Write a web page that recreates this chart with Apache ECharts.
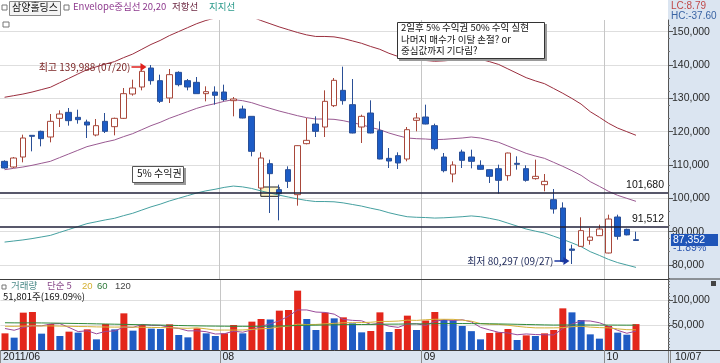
<!DOCTYPE html>
<html><head><meta charset="utf-8">
<script src="https://cdn.jsdelivr.net/npm/echarts@6/dist/echarts.min.js"></script>
<style>html,body{margin:0;padding:0;background:#fff}#c{width:720px;height:363px}</style>
</head><body><div id="c"></div>
<script>
// ---- data ----
const dates = ['06/28','06/29','06/30',
 '07/01','07/04','07/05','07/06','07/07','07/08','07/11','07/12','07/13','07/14','07/15','07/18','07/19','07/20','07/21','07/22','07/25','07/26','07/27','07/28','07/29',
 '08/01','08/02','08/03','08/04','08/05','08/08','08/09','08/10','08/11','08/12','08/16','08/17','08/18','08/19','08/22','08/23','08/24','08/25','08/26','08/29','08/30','08/31',
 '09/01','09/02','09/05','09/06','09/07','09/08','09/09','09/14','09/15','09/16','09/19','09/20','09/21','09/22','09/23','09/26','09/27','09/28','09/29','09/30',
 '10/04','10/05','10/06','10/07'];
const opens = [111100,109400,112400,118900,120100,118400,124000,125800,124300,122900,
 119000,123100,121500,124000,131300,133400,139100,135300,130100,137800,
 135300,134800,131400,131900,131900,129300,126800,124600,103100,110400,
 102600,108600,101100,116400,122300,121400,127800,132400,128100,121400,
 125600,120300,112000,112800,111800,123400,124400,121800,112400,107300,
 113900,112400,109900,108600,108900,106800,110500,108900,105900,104100,
 99600,97100,84800,85600,87400,88800,83600,94400,90700,87600];
const closes = [109100,112100,118100,118600,117900,123100,125300,123300,123600,122000,
 121800,120100,124000,131400,133100,138100,135300,129100,137100,134100,
 133400,131400,132000,130900,129600,129800,124100,114100,112100,107400,
 101400,105100,115800,117400,120100,129100,135400,129300,119600,124600,
 119600,111800,111200,110600,120600,124100,122300,114900,108300,110000,
 111400,111100,108700,106600,105400,113600,110200,105400,106600,105100,
 96800,81100,84400,90300,88400,90800,93800,88600,89035,87352];
const lows = [108900,109100,110800,114100,115600,116800,121400,121800,122400,118100,
 118600,119600,118900,123800,130800,132400,134100,128600,128600,133600,
 132400,131400,129100,128100,129200,124600,124000,112600,102600,95600,
 93400,103100,97800,116200,118400,118400,127400,128100,119500,116600,
 119500,111700,109100,108800,111100,120100,122200,114400,107800,104800,
 109100,109000,108600,104600,101400,105300,108600,105000,105600,102100,
 95400,80800,80297,85500,86100,88700,83500,87600,88900,87300];
const highs = [111400,112400,119100,119000,120300,125300,126400,127100,126600,123600,
 123800,125600,124200,133100,135600,139600,139988,137100,138800,138100,
 135800,136400,133600,133600,134100,130400,127800,124600,113800,111600,
 104100,109600,115900,124100,124600,132400,136100,139500,135800,125100,
 129400,123100,115100,113800,121400,125600,128100,122400,113600,111100,
 114600,114600,111400,108700,110100,113700,112600,109900,111600,107300,
 102800,98800,86100,94300,91100,92100,95100,95100,90900,90000];
const envCenter = [108600,109000,109400,109900,110500,111100,112200,113300,114400,115500,
 116200,116900,117500,118500,119400,120600,121800,122800,124000,125000,
 126000,127000,127800,128400,129100,129600,129300,128700,127800,127000,
 126200,125500,124800,124200,123800,123800,123700,123300,122700,122100,
 121300,120600,119600,118800,118100,117900,117800,117600,117700,117900,
 118100,118400,118100,117500,116800,115700,114600,113500,112700,112000,
 110800,109600,108300,106900,105000,103600,102100,100900,100000,99100];
const envUpper = [130320,130800,131280,131880,132600,133320,134640,135960,137280,138600,
 139440,140280,141000,142200,143280,144720,146160,147360,148800,150000,
 151200,152400,153360,154080,154920,155520,155160,154440,153360,152400,
 151440,150600,149760,149040,148560,148560,148440,147960,147240,146520,
 145560,144720,143520,142560,141720,141480,141360,141120,141240,141480,
 141720,142080,141720,141000,140160,138840,137520,136200,135240,134400,
 132960,131520,129960,128280,126000,124320,122520,121080,120000,118920];
const envLower = [86880,87200,87520,87920,88400,88880,89760,90640,91520,92400,
 92960,93520,94000,94800,95520,96480,97440,98240,99200,100000,
 100800,101600,102240,102720,103280,103680,103440,102960,102240,101600,
 100960,100400,99840,99360,99040,99040,98960,98640,98160,97680,
 97040,96480,95680,95040,94480,94320,94240,94080,94160,94320,
 94480,94720,94480,94000,93440,92560,91680,90800,90160,89600,
 88640,87680,86640,85520,84000,82880,81680,80720,80000,79280];
const volumes = [33300,24700,74700,76000,32700,52000,28000,36700,34700,41300,
 21300,52000,41300,73300,38700,50000,42700,42000,51300,30000,
 25300,43300,33300,28000,33300,50000,33300,56700,62000,61000,
 78700,80000,118700,62000,40000,74700,63300,65300,53300,35300,
 38000,75300,36000,42000,68700,40000,59000,76000,60000,59500,
 48000,37700,21300,34000,35300,42000,20000,29300,28000,33300,
 40000,83300,75300,60000,31300,22700,48000,34700,30635,51801];
const volUp = [1,0,1,1,0,1,0,1,0,1, 0,1,0,1,0,1,0,0,1,0, 0,1,0,0,1,1,0,1,1,0,
 1,1,1,0,0,1,0,1,0,0, 1,1,0,1,1,0,1,1,0,0, 0,0,0,1,1,1,0,1,0,1, 1,1,0,0,0,0,1,0,0,1];
const volMA5 = [43000,39500,45000,48500,48300,52000,52700,45100,36800,38500,
 32400,37200,38100,45800,45300,51100,49200,49300,44900,43200,
 38300,38400,36600,32000,32600,37600,35600,40300,47100,52600,
 58300,67700,80100,80100,75900,75100,71700,61100,59300,58400,
 51000,53400,47600,45300,52000,52400,49100,57100,60700,58900,
 60500,56200,45300,40100,35300,34100,30500,32100,30900,30500,
 30100,42800,52000,58400,58000,54500,47500,39300,33500,37600];
const volMA20 = [47500,47300,47800,48300,48000,48200,47800,47500,47000,46800,
 46200,46000,45800,46000,45700,45500,45200,44800,44600,43800,
 43400,44400,42300,39900,39900,39800,40100,41100,42500,43400,
 46300,47700,51600,51000,51100,52300,53300,54500,54600,54900,
 55500,57100,57200,57900,59700,59200,60500,61500,61400,61300,
 59800,57600,52800,51400,51100,49500,47300,45500,44300,44200,
 44300,44700,46600,47500,45700,44800,44300,42200,40700,40300];
const volMA60 = [54500,54300,54200,54300,54100,53900,53600,53300,53000,52700,
 52300,52000,51600,51300,50900,50500,50200,49800,49400,49000,
 48600,48300,48000,47800,47600,47500,47400,47400,47500,47700,
 48000,48400,49100,49500,49700,50100,50400,50700,50900,51000,
 51200,51600,51700,51800,52100,52200,52300,52600,52800,52900,
 52900,52800,52600,52400,52100,51800,51400,51000,50600,50200,
 49900,50000,50100,50100,50000,49800,49900,49800,49700,49700];
const priceTicks = [80000,90000,100000,110000,120000,130000,140000,150000];
const volTicks = [50000,100000];
const monthLabels = {0:'2011/06', 24:'08', 46:'09', 66:'10'};
const levelLines = [101680, 91512];
const maxIdx = 16, minIdx = 62, boxFrom = 28, boxTo = 30;
const boxTop = 103400, boxBottom = 100600;
const padCats = ['', ' ', '  '];

// ---- helpers ----
const fmt = v => String(v).replace(/\B(?=(\d{3})+(?!\d))/g, ',');
const NUMF = '"Liberation Sans", Arial, sans-serif';
const KRF = '"Noto Sans CJK KR", sans-serif';
const monthStarts = Object.keys(monthLabels).map(Number);
const cats = dates.concat(padCats);
const candleData = dates.map((d, i) => [opens[i], closes[i], lows[i], highs[i]]);
const volData = volumes.map((v, i) => ({value: v, itemStyle: {color: volUp[i] ? '#e3261b' : '#1f5cc4'}}));
const arrowR = 'path://M0,3.2L9,3.2L9,0L15,4L9,8L9,4.8L0,4.8Z';
const n = dates.length;

const chart = echarts.init(document.getElementById('c'), null, {renderer: 'canvas'});
const option = {
  animation: false,
  backgroundColor: '#ffffff',
  grid: [
    {left: 0, top: 20, width: 668, height: 259},
    {left: 0, top: 279, width: 668, height: 71}
  ],
  xAxis: [
    {type: 'category', gridIndex: 0, data: cats, boundaryGap: true,
     axisLine: {show: true, lineStyle: {color: '#3c3c3c', width: 1}},
     axisTick: {show: false}, axisLabel: {show: false},
     splitLine: {show: true, interval: (i) => monthStarts.indexOf(i) > 0, lineStyle: {color: '#c6c6c6'}}},
    {type: 'category', gridIndex: 1, data: cats, boundaryGap: true,
     axisLine: {show: true, lineStyle: {color: '#3c3c3c', width: 1}},
     axisTick: {show: true, interval: (i) => monthStarts.indexOf(i) >= 0, length: 13, lineStyle: {color: '#8a8a8a'}},
     axisLabel: {show: true, interval: (i) => monthStarts.indexOf(i) >= 0,
       formatter: (v, i) => monthLabels[i] || '', align: 'left', color: '#222', fontSize: 10.5,
       fontFamily: NUMF, margin: 2, padding: [0, 0, 0, -2]},
     splitLine: {show: true, interval: (i) => monthStarts.indexOf(i) > 0, lineStyle: {color: '#c6c6c6'}}}
  ],
  yAxis: [
    {type: 'value', gridIndex: 0, position: 'right', min: 75800, max: 153500,
     axisLine: {show: true, lineStyle: {color: '#555'}},
     axisTick: {show: true, customValues: priceTicks, length: 5, lineStyle: {color: '#555'}},
     minorTick: {show: true, splitNumber: 5, length: 2, lineStyle: {color: '#777'}},
     axisLabel: {customValues: priceTicks, formatter: fmt, color: '#2a2a2a', fontSize: 10.5, fontFamily: NUMF, margin: 4},
     splitLine: {show: true, lineStyle: {color: '#dedede'}}},
    {type: 'value', gridIndex: 1, position: 'right', min: 0, max: 142000,
     axisLine: {show: true, lineStyle: {color: '#555'}},
     axisTick: {show: true, customValues: volTicks, length: 5, lineStyle: {color: '#555'}},
     minorTick: {show: true, splitNumber: 5, length: 2, lineStyle: {color: '#777'}},
     axisLabel: {customValues: volTicks, formatter: fmt, color: '#2a2a2a', fontSize: 10.5, fontFamily: NUMF, margin: 4},
     splitLine: {show: true, lineStyle: {color: '#dedede'}}}
  ],
  series: [
    {name: '저항선', type: 'line', xAxisIndex: 0, yAxisIndex: 0, data: envUpper, symbol: 'none',
     lineStyle: {color: '#9a2e3e', width: 1}, z: 1},
    {name: 'Envelope중심선', type: 'line', xAxisIndex: 0, yAxisIndex: 0, data: envCenter, symbol: 'none',
     lineStyle: {color: '#9a5a92', width: 1}, z: 1},
    {name: '지지선', type: 'line', xAxisIndex: 0, yAxisIndex: 0, data: envLower, symbol: 'none',
     lineStyle: {color: '#45a0a0', width: 1}, z: 1},
    {name: '삼양홀딩스', type: 'candlestick', xAxisIndex: 0, yAxisIndex: 0, data: candleData, barWidth: 6, z: 3,
     itemStyle: {color: '#ffffff', color0: '#1c5cc6', borderColor: '#a8473a', borderColor0: '#2a4f96', borderWidth: 1},
     markLine: {symbol: 'none', silent: true, animation: false,
       lineStyle: {color: '#20203a', width: 1.5, type: 'solid'},
       label: {show: true, position: 'insideEndTop', formatter: p => fmt(p.value), color: '#111',
         fontSize: 10.5, fontFamily: NUMF, distance: [4, 2]},
       data: levelLines.map(v => ({yAxis: v}))},
     markArea: {silent: true,
       itemStyle: {color: 'rgba(255,236,130,0.45)', borderColor: '#222', borderWidth: 1},
       data: [[{coord: [boxFrom, boxTop]}, {coord: [boxTo, boxBottom]}]]},
     markPoint: {animation: false, silent: true,
       data: [
         {coord: [maxIdx, highs[maxIdx]], symbol: arrowR, symbolSize: [15, 8], symbolOffset: [-12, 2],
          itemStyle: {color: '#e0201c'},
          label: {show: true, position: 'left', distance: 1,
            formatter: '최고 ' + fmt(highs[maxIdx]) + ' (' + dates[maxIdx] + ')',
            color: '#7a2424', fontSize: 10, fontFamily: KRF}},
         {coord: [minIdx, lows[minIdx]], symbol: arrowR, symbolSize: [15, 8], symbolOffset: [-10, -3],
          itemStyle: {color: '#1a36a0'},
          label: {show: true, position: 'left', distance: 1,
            formatter: '최저 ' + fmt(lows[minIdx]) + ' (' + dates[minIdx] + ')',
            color: '#1e2a5a', fontSize: 10, fontFamily: KRF}}
       ]}},
    {name: '거래량', type: 'bar', xAxisIndex: 1, yAxisIndex: 1, data: volData, barWidth: 7, z: 2},
    {name: '단순 5', type: 'line', xAxisIndex: 1, yAxisIndex: 1, data: volMA5, symbol: 'none',
     lineStyle: {color: '#9a4a9a', width: 1}, z: 4},
    {name: '20', type: 'line', xAxisIndex: 1, yAxisIndex: 1, data: volMA20, symbol: 'none',
     lineStyle: {color: '#d6b23a', width: 1}, z: 4},
    {name: '60', type: 'line', xAxisIndex: 1, yAxisIndex: 1, data: volMA60, symbol: 'none',
     lineStyle: {color: '#2f8a3a', width: 1}, z: 4}
  ]
};
chart.setOption(option);

// ---- annotations / text overlays ----
const last = closes[n - 1], prev = closes[n - 2];
const yLast = chart.convertToPixel({yAxisIndex: 0}, last);
const lowAll = Math.min.apply(null, lows), highAll = Math.max.apply(null, highs);
const lc = ((last / lowAll - 1) * 100).toFixed(2);
const hc = ((last / highAll - 1) * 100).toFixed(2);
const chg = ((last / prev - 1) * 100).toFixed(2);
const vchg = (volumes[n - 1] / volumes[n - 2] * 100).toFixed(2);
const t = (text, x, y, color, size, fam, extra) => Object.assign({type: 'text', z: 50,
  style: Object.assign({text: text, x: x, y: y, fill: color, font: size + 'px ' + fam, verticalAlign: 'top'}, extra || {})});
const noteLines = ['2일후 5% 수익권 50% 수익 실현', '나머지 매수가 이탈 손절? or', '중심값까지 기다림?'];

chart.setOption({graphic: [
  {type: 'rect', z: -5, shape: {x: 668, y: 0, width: 52, height: 363}, style: {fill: '#dbe5f1'}},
  {type: 'rect', z: -5, shape: {x: 0, y: 351, width: 720, height: 12}, style: {fill: '#dbe5f1'}},
  {type: 'line', z: 5, shape: {x1: 668, y1: 279, x2: 720, y2: 279}, style: {stroke: '#3c3c3c', lineWidth: 1}},
  {type: 'line', z: 5, shape: {x1: 668, y1: 350.5, x2: 720, y2: 350.5}, style: {stroke: '#3c3c3c', lineWidth: 1}},
  // top legend
  {type: 'rect', z: 50, shape: {x: 2, y: 5, width: 5, height: 5}, style: {fill: '#fff', stroke: '#777', lineWidth: 1}},
  {type: 'rect', z: 50, shape: {x: 9.5, y: 1.5, width: 51, height: 14}, style: {fill: '#f4f4f4', stroke: '#8a8a8a', lineWidth: 1}},
  t('삼양홀딩스', 12, 2, '#111', 10, KRF),
  {type: 'rect', z: 50, shape: {x: 64, y: 5, width: 5, height: 5}, style: {fill: '#fff', stroke: '#777', lineWidth: 1}},
  t('Envelope중심선 20,20', 73, 2, '#8e3a8e', 9.5, KRF),
  t('저항선', 172, 2, '#6e2a44', 9.5, KRF),
  t('지지선', 209, 2, '#2a9a8a', 9.5, KRF),
  {type: 'rect', z: 50, shape: {x: 3, y: 22, width: 6, height: 5}, style: {fill: '#fff', stroke: '#777', lineWidth: 1}},
  // right column texts
  t('LC:' + lc, 671, 1, '#c04a4a', 10, NUMF),
  t('HC:' + hc, 671, 11, '#3a64a4', 10, NUMF),
  {type: 'rect', z: 50, shape: {x: 671, y: Math.round(yLast) - 6, width: 47, height: 12}, style: {fill: '#1f55b8'}},
  t(fmt(last), 673, Math.round(yLast), '#ffffff', 10.5, NUMF, {verticalAlign: 'middle'}),
  t(chg + '%', 673, Math.round(yLast) + 8, '#2a55b0', 10.5, NUMF, {verticalAlign: 'middle'}),
  {type: 'rect', z: 50, shape: {x: 711, y: 281, width: 5, height: 5}, style: {fill: '#444'}},
  t(dates[n - 1], 675, 352, '#222', 10.5, NUMF),
  {type: 'line', z: 50, shape: {x1: 670.5, y1: 351, x2: 670.5, y2: 363}, style: {stroke: '#8a8a8a', lineWidth: 1}},
  // volume legend
  {type: 'rect', z: 50, shape: {x: 2, y: 285, width: 4, height: 4}, style: {fill: '#fff', stroke: '#777', lineWidth: 1}},
  t('거래량', 11, 281, '#4a8a88', 9.5, KRF),
  t('단순 5', 47, 281, '#8a4a8a', 9.5, KRF),
  t('20', 82, 281, '#d4b030', 9.5, NUMF),
  t('60', 97, 281, '#2f7a3a', 9.5, NUMF),
  t('120', 115, 281, '#444', 9.5, NUMF),
  t(fmt(volumes[n - 1]) + '주(' + vchg + '%)', 3, 292, '#111', 9.5, KRF),
  // "5% 수익권" box
  {type: 'rect', z: 49, shape: {x: 134, y: 168, width: 52, height: 17}, style: {fill: '#9a9a9a'}},
  {type: 'rect', z: 50, shape: {x: 132.5, y: 166.5, width: 51, height: 16}, style: {fill: '#fff', stroke: '#555', lineWidth: 1}},
  t('5% 수익권', 137, 168, '#111', 10, KRF),
  // note box
  {type: 'rect', z: 49, shape: {x: 399, y: 24, width: 148, height: 37}, style: {fill: '#9a9a9a'}},
  {type: 'rect', z: 50, shape: {x: 397.5, y: 22.5, width: 147, height: 36}, style: {fill: '#fff', stroke: '#333', lineWidth: 1}},
  t(noteLines[0], 401, 23, '#111', 9.5, KRF),
  t(noteLines[1], 401, 34.5, '#111', 9.5, KRF),
  t(noteLines[2], 401, 46, '#111', 9.5, KRF)
]});
</script>
</body></html>
